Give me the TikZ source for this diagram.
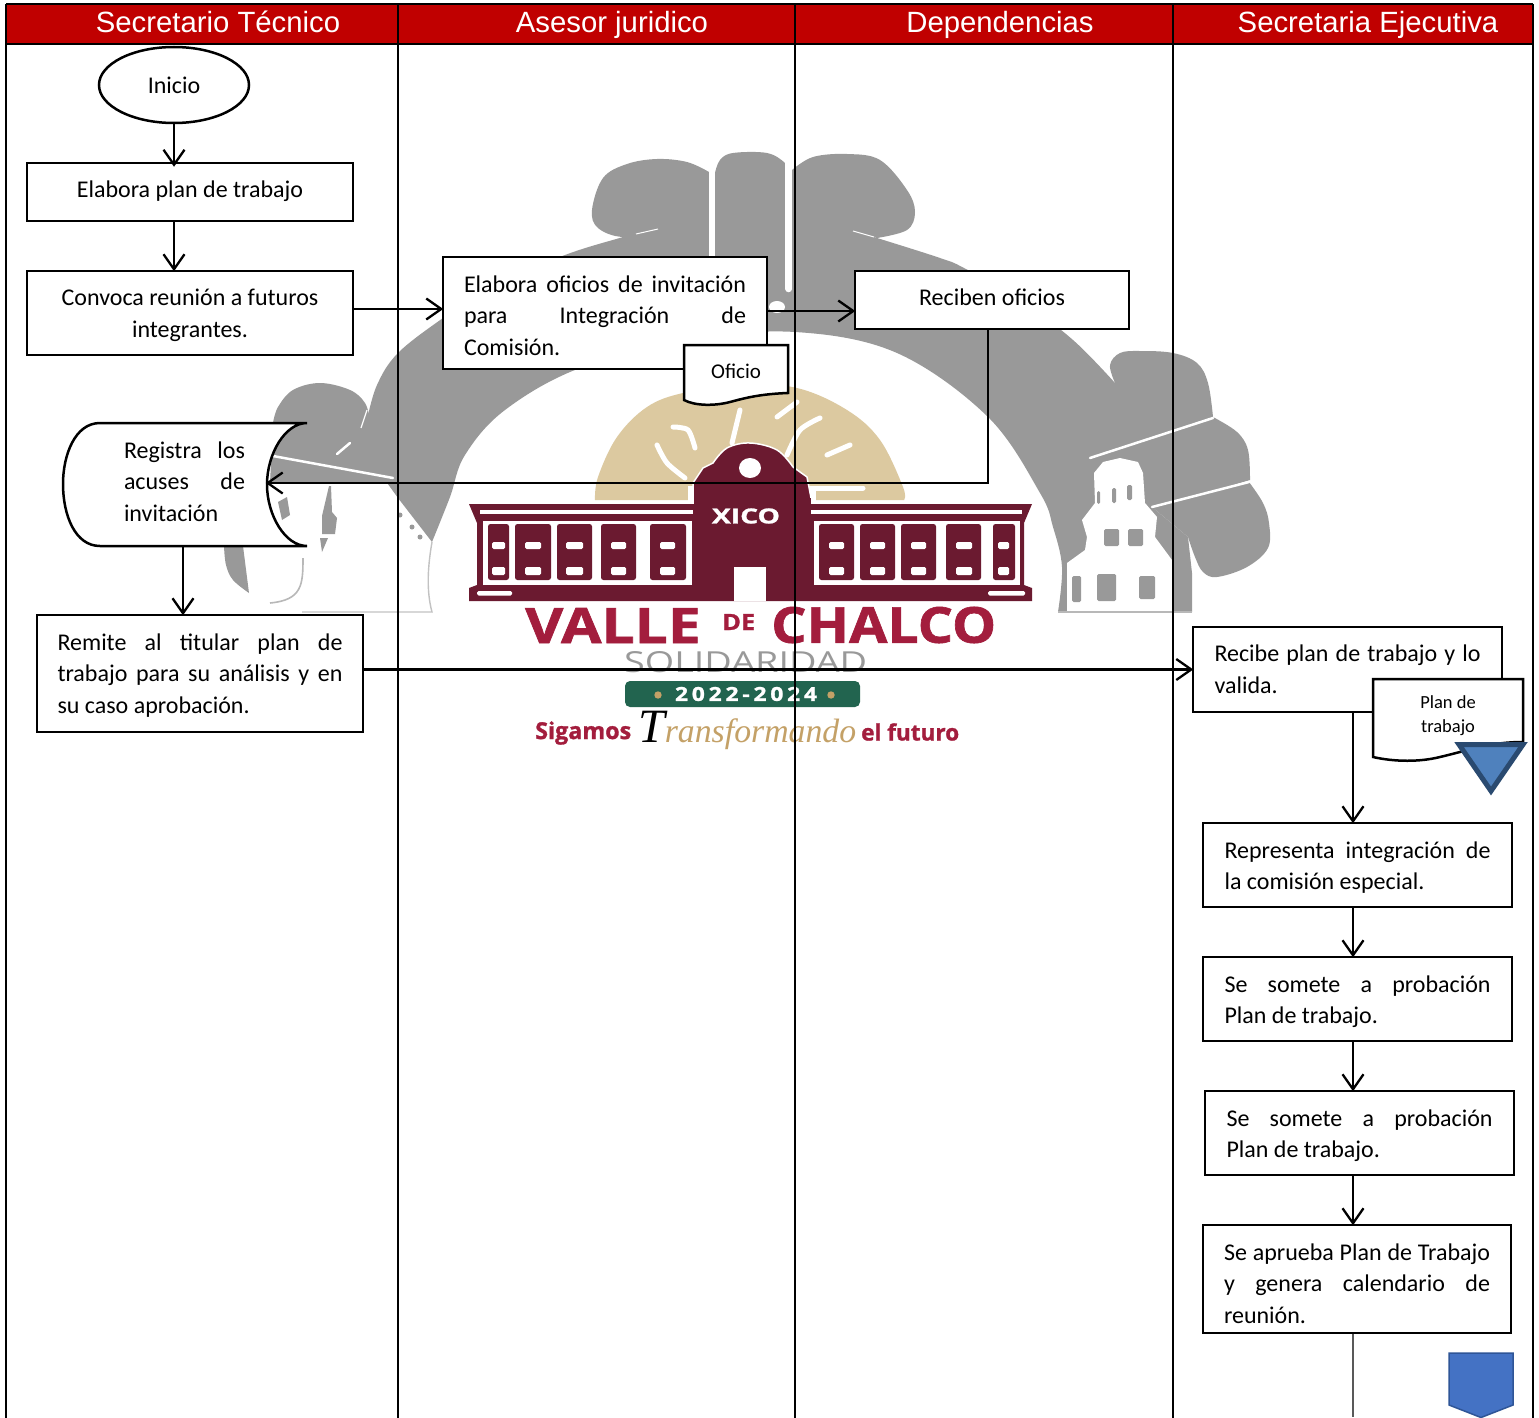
\documentclass[tikz,border=0pt]{standalone}
\usepackage{fontspec}
\setmainfont{Carlito}
\newfontfamily\arialf{Liberation Sans}
\newfontfamily\logof{Open Sans}[BoldFeatures={FakeBold=1.2}]
\newfontfamily\swashf{Liberation Serif}
\usetikzlibrary{arrows.meta,shapes.geometric}
\definecolor{hdr}{HTML}{C00000}
\definecolor{lgray}{HTML}{999999}
\definecolor{sun}{HTML}{DCC9A0}
\definecolor{maroon}{HTML}{6B1A30}
\definecolor{wine}{HTML}{A31D3D}
\definecolor{pill}{HTML}{22644F}
\definecolor{tan}{HTML}{C4A167}
\definecolor{triF}{HTML}{4F81BD}
\definecolor{triB}{HTML}{2A4A70}
\definecolor{penF}{HTML}{4472C4}
\definecolor{penB}{HTML}{2F5597}
\newcommand\bodyfont{\fontsize{24}{31.6}\selectfont}
% dy (up, in px), width, lines
\newcommand\tx[3]{\raisebox{\dimexpr #1pt-5.75pt\relax}[0pt][0pt]{\parbox[c]{#2pt}{\bodyfont\parindent=0pt #3}}}
\newcommand\jl[2]{\makebox[#1pt][s]{#2}}
\tikzset{
  boxn/.style={draw,fill=white,line width=2.5pt,inner sep=0pt,font=\bodyfont,text=black},
  hdrn/.style={text=white,inner sep=0pt,text height=22pt,text depth=6pt,font=\arialf\fontsize{29.3}{32}\selectfont},
  lane/.style={line width=1.7pt,black},
  arr/.style={line width=2.3pt,black,-{Straight Barb[length=15pt,width=21pt,line width=2.3pt]},shorten >=-1.5pt},
  lgn/.style={inner sep=0pt},
  doc/.style={draw,fill=white,line width=2.5pt,line join=miter},
  slit/.style={white,line width=2.5pt,line cap=round},
}
\begin{document}
\begin{tikzpicture}[x=1pt,y=-1pt]
\useasboundingbox (0,0) rectangle (1539,1418);
\fill[white] (0,0) rectangle (1539,1418);

% ---------- logo: grey arch ----------
\fill[lgray] plot[smooth,tension=.6] coordinates {(367,420)(377,385)(398,353)(443,318)(490,287)(565,255)(623,237)(660,226)(750,215)(853,231)(877,238)(940,258)(964,268)(1020,300)(1073,340)(1115,383)}
  -- (1150,430) -- (1152,507) -- (1188,537) -- (1192,573) -- (1192,612) -- (1058,612)
  -- plot[smooth,tension=.6] coordinates {(1058,612)(1062,567)(1053,527)(1040,493)(988,417)(897,353)(795,332)(690,340)(580,368)(505,410)(465,455)(450,497)(432,542)}
  -- (398,498) -- (385,480) -- cycle;
\fill[lgray] plot[smooth,tension=.6] coordinates {(273,423)(278,407)(293,390)(320,383)(350,390)(365,403)(370,420)} -- (390,483) -- (270,483) -- cycle;
\fill[lgray] plot[smooth,tension=.6] coordinates {(709,172)(687,162)(657,159)(627,164)(603,178)(592,210)(598,228)(623,237)(660,231)} -- (709,262) -- cycle;
\fill[lgray] plot[smooth,tension=.6] coordinates {(715,173)(720,160)(733,153)(767,153)(785,163)(786,170)} -- (786,300) -- (715,300) -- cycle;
\fill[lgray] plot[smooth,tension=.6] coordinates {(792,170)(813,157)(847,154)(880,160)(907,190)(915,212)(907,230)(877,238)} -- (853,231) -- (792,262) -- cycle;
\fill[lgray] plot[smooth,tension=.6] coordinates {(1115,383)(1110,365)(1120,353)(1140,351)(1173,353)(1197,363)(1208,383)(1213,417)} -- (1090,458) -- cycle;
\fill[lgray] plot[smooth,tension=.6] coordinates {(1213,417)(1237,432)(1248,450)(1250,480)} -- (1152,510) -- (1090,458) -- cycle;
\fill[lgray] plot[smooth,tension=.6] coordinates {(1249,482)(1263,503)(1269,523)(1268,548)(1247,567)(1217,577)(1203,572)(1195,557)(1188,537)} -- (1152,507) -- cycle;
% slits and creases
\draw[white,line width=5.5pt] (712,165) -- (712,270);
\draw[white,line width=6.5pt,line cap=round] (788.7,160) -- (788.7,289);
\fill[white] (777,307) ellipse (8 and 6);
\draw[slit] (1213,418) -- (1090,458);
\draw[slit] (1249,482) -- (1152,507);
\draw[slit] (273,456) -- (393,478);
\draw[slit] (337,454) -- (350,443);
\draw[white,line width=1pt] (636,234) -- (658,229);
\draw[white,line width=1pt] (853,231) -- (874,237);
\draw[white,line width=1.2pt] (367,410) -- (361,428);
% right tower
\fill[white] (1067,612) -- (1067,563) -- (1085,550) -- (1087,537) -- (1082,520) -- (1095,503) -- (1094,473) -- (1103,462) -- (1120,458) -- (1138,462) -- (1143,473) -- (1145,503) -- (1157,517) -- (1155,537) -- (1172,560) -- (1172,612) -- cycle;
\foreach \a/\b/\c/\d in {1097/491/1100/504,1112/488/1116/503,1127/485/1132/500,1104/529/1119/546,1128/529/1143/546,1072/576/1081/602,1097/574/1116/601,1139/576/1155/599}
  \fill[lgray,rounded corners=1.5pt] (\a,\b) rectangle (\c,\d);
\draw[lgray!70,line width=1.4pt] (1058,612) -- (1192,612);
% left tower remains
\fill[lgray] plot[smooth,tension=.6] coordinates {(224,546)(226,565)(233,580)(249,593)} -- (243,546) -- cycle;
\fill[lgray] (278,502) -- (287,497) -- (290,515) -- (282,520) -- cycle;
\fill[lgray] (329,486) -- (331,486) -- (332,512) -- (337,518) -- (335,534) -- (322,534) -- (322,516) -- cycle;
\fill[lgray] (320,538) -- (328,538) -- (322,552) -- cycle;
\draw[lgray!70,line width=1.6pt] (303,558) .. controls (303,585) and (302,600) .. (270,603);
\draw[lgray!60,line width=1.4pt] (302,612) -- (432,612) .. controls (426,590) and (428,565) .. (432,542);
\fill[lgray] (400,515) circle (2.5);
\fill[lgray] (412,527) circle (2.5);
\fill[lgray] (420,537) circle (2.5);

% ---------- logo: sun ----------
\fill[sun] (595,500) -- plot[smooth,tension=.6] coordinates {(595,500)(598,477)(617,437)(647,407)(683,393)(740,385)(797,388)(847,410)(880,440)(903,487)(904,500)} -- cycle;
\begin{scope}[white,line width=5pt,line cap=round]
\draw plot[smooth] coordinates {(657,445)(667,463)(685,478)};
\draw plot[smooth] coordinates {(673,427)(688,430)(695,448)};
\draw (740,410) -- (732,443);
\draw (797,402) -- (777,417);
\draw plot[smooth] coordinates {(820,418)(800,430)(787,455)};
\draw (850,445) -- (827,455);
\draw (813,488) -- (863,488);
\end{scope}

% ---------- logo: building ----------
\fill[maroon] (469,504) -- (1032,504) -- (1024,523) -- (1024,585) -- (1032,588) -- (1032,601) -- (469,601) -- (469,588) -- (477,585) -- (477,523) -- cycle;
\fill[white] (688,486) rectangle (816,504);
\filldraw[maroon,draw=white,line width=1.5pt] plot[smooth,tension=.6] coordinates {(713,463)(727,448)(750,443)(777,450)(793,467)} -- (807,477) -- (812,503) -- (693,503) -- (693,483) -- (703,468) -- cycle;
\fill[maroon] (694,498) rectangle (811,512);
\fill[white] (750,468) ellipse (11 and 10);
\fill[white] (734,567) rectangle (766,601);
\fill[white] (480,510) rectangle (693,514);
\fill[white] (811,510) rectangle (1022,514);
\fill[white] (483,521) rectangle (692,585);
\fill[white] (814,521) rectangle (1020,585);
\fill[white,rounded corners=1.5pt] (477,591) rectangle (512,595.5);
\fill[white,rounded corners=1.5pt] (988,591) rectangle (1025,595.5);
\foreach \a/\b/\c/\d in {488/509/492/505,515/551/525/541,557/592/566/583,601/636/611/626,650/686/660/675,819/854/829/844,860/895/870/885,901/936/911/926,946/981/956/972,993/1015/998/1009}{
  \fill[maroon,rounded corners=2.5pt] (\a,524) rectangle (\b,580);
  \fill[white,rounded corners=1.5pt] (\c,542) rectangle (\d,549);
  \fill[white,rounded corners=1.5pt] (\c,567) rectangle (\d,575);
}
\node[lgn,text=white] (lgXico) at (746,516) {\resizebox{68pt}{15pt}{\logof\bfseries XICO}};
\node[lgn,text=wine,anchor=west] (lgValle) at (525,625.5) {\resizebox{175.5pt}{35pt}{\logof\bfseries VALLE}};
\node[lgn,text=wine,anchor=west] (lgDe) at (722,622) {\resizebox{33pt}{16pt}{\logof\bfseries DE}};
\node[lgn,text=wine,anchor=west] (lgChalco) at (771,625) {\resizebox{225pt}{36pt}{\logof\bfseries CHALCO}};
\node[lgn,text=lgray,anchor=west] (lgSol) at (624,662.5) {\resizebox{243pt}{21pt}{\logof SOLIDARIDAD}};
\fill[pill,rounded corners=5pt] (625,681) rectangle (860,707);
\fill[tan] (658,695) circle (3.7);
\fill[tan] (831,695) circle (3.7);
\node[lgn,text=white] (lgYear) at (746,694) {\resizebox{142pt}{14pt}{\logof\bfseries 2\,0\,2\,2\,-\,2\,0\,2\,4}};
\node[lgn,text=wine,anchor=west] (lgSig) at (535,733) {\resizebox{96pt}{!}{\logof\bfseries Sigamos}};
\node[lgn,anchor=base west] (lgTrans) at (638,742) {\resizebox{218pt}{!}{\swashf\itshape\fontsize{24}{26}\selectfont{\color{black}\fontsize{34}{36}\selectfont T}\color{tan}ransformando}};
\node[lgn,text=wine,anchor=west] (lgFut) at (861,732) {\resizebox{98pt}{!}{\logof\bfseries el futuro}};

% ---------- swimlanes ----------
\fill[hdr] (6,4) rectangle (1533,44);
\draw[lane] (6,4) -- (1533,4);
\draw[lane] (6,44) -- (1533,44);
\foreach \x in {6,398,795,1173,1533} \draw[lane] (\x,4) -- (\x,1418);
\node[hdrn] (h1) at (218,25) {Secretario Técnico};
\node[hdrn] (h2) at (612,25) {Asesor juridico};
\node[hdrn] (h3) at (1000,25) {Dependencias};
\node[hdrn] (h4) at (1368,25) {Secretaria Ejecutiva};

% ---------- flow nodes ----------
\node[boxn,ellipse,minimum width=150pt,minimum height=76pt] (ini) at (174,85) {Inicio};
\node[boxn,minimum width=326pt,minimum height=58pt] (ela) at (190,192) {\tx{0}{300}{\centering Elabora plan de trabajo}};
\node[boxn,minimum width=326pt,minimum height=84pt] (con) at (190,313) {\tx{-3}{300}{\centering Convoca reunión a futuros\\ integrantes.}};
\node[boxn,minimum width=324pt,minimum height=112pt] (ofi) at (605,313) {\tx{-3}{282}{\jl{282}{Elabora oficios de invitación}\\ \jl{282}{para Integración de}\\ Comisión.}};
\node[boxn,minimum width=274pt,minimum height=58pt] (rec) at (992,300) {\tx{2}{250}{\centering Reciben oficios}};
% Registra shape
\draw[fill=white,line width=2.5pt,line join=bevel] (307,423) -- (100,423) .. controls (75,423) and (63,455) .. (63,484) .. controls (63,515) and (75,546) .. (100,546) -- (307,546) .. controls (285,546) and (267,515) .. (267,484.5) .. controls (267,454) and (285,423) .. (307,423) -- cycle;
\node[lgn,minimum width=204pt,minimum height=123pt] (reg) at (165,484.5) {};
\node[lgn,font=\bodyfont] (regt) at (184.5,482) {\tx{0}{121}{\jl{121}{Registra los}\\ \jl{121}{acuses de}\\ invitación}};
\coordinate (regS) at (183,546);
\node[boxn,minimum width=326pt,minimum height=117pt] (rem) at (200,673.5) {\tx{-2.5}{285}{\jl{285}{Remite al titular plan de}\\ \jl{285}{trabajo para su análisis y en}\\ su caso aprobación.}};
\node[boxn,minimum width=309pt,minimum height=85pt] (rcb) at (1347.5,669.5) {\tx{0}{266}{\jl{266}{Recibe plan de trabajo y lo}\\ valida.}};
\node[boxn,minimum width=309pt,minimum height=84pt] (rep) at (1357.5,865) {\tx{-3}{266}{\jl{266}{Representa integración de}\\ la comisión especial.}};
\node[boxn,minimum width=309pt,minimum height=84pt] (so1) at (1357.5,999) {\tx{-3}{266}{\jl{266}{Se somete a probación}\\ Plan de trabajo.}};
\node[boxn,minimum width=309pt,minimum height=84pt] (so2) at (1359.5,1133) {\tx{-3}{266}{\jl{266}{Se somete a probación}\\ Plan de trabajo.}};
\node[boxn,minimum width=308pt,minimum height=108pt] (apr) at (1357,1279) {\tx{-5}{266}{\jl{266}{Se aprueba Plan de Trabajo}\\ \jl{266}{y genera calendario de}\\ reunión.}};

% ---------- connectors ----------
\coordinate (vx) at (1353,0);
\draw[arr,shorten >=-5pt] (ini.south) -- (ini.south |- ela.north);
\draw[arr] (ini.south |- ela.south) -- (ini.south |- con.north);
\draw[arr] ([yshift=4pt]con.east) -- ([yshift=4pt]con.east -| ofi.west);
\draw[arr] ([yshift=2pt]ofi.east) -- ([yshift=2pt]ofi.east -| rec.west);
\draw[arr] ([xshift=-4pt]rec.south) |- ([yshift=1.5pt]reg.east);
\draw[arr] (regS) -- (regS |- rem.north);
\draw[arr] (rem.east |- rcb.west) -- (rcb.west);
\draw[arr] (vx |- rcb.south) -- (vx |- rep.north);
\draw[arr] (vx |- rep.south) -- (vx |- so1.north);
\draw[arr] (vx |- so1.south) -- (vx |- so2.north);
\draw[arr] (vx |- so2.south) -- (vx |- apr.north);
\coordinate (endv) at (1353,1417);
\draw[black!65,line width=1.5pt] (vx |- apr.south) -- (endv);

% ---------- documents and markers ----------
\draw[doc] (684,345) -- (788,345) -- (788,393) .. controls (760,394) and (745,398) .. (730,402) .. controls (715,406) and (695,406) .. (684,400) -- cycle;
\node[lgn,font=\fontsize{21}{24}\selectfont] (docOf) at (736,371) {Oficio};
\draw[doc] (1373,679) -- (1523,679) -- (1523,742) .. controls (1490,742) and (1470,750) .. (1440,757) .. controls (1420,762) and (1395,762) .. (1373,757) -- cycle;
\node[lgn,font=\fontsize{18.5}{24}\selectfont,align=center] (docPl) at (1448,716) {Plan de\\ trabajo};
\draw[fill=triF,draw=triB,line width=5pt,line join=miter] (1459,744.5) -- (1523,744.5) -- (1491,791) -- cycle;
\draw[fill=penF,draw=penB,line width=1.5pt] (1449,1353) -- (1513,1353) -- (1513,1405) -- (1481,1417.5) -- (1449,1405) -- cycle;
\end{tikzpicture}
\end{document}
